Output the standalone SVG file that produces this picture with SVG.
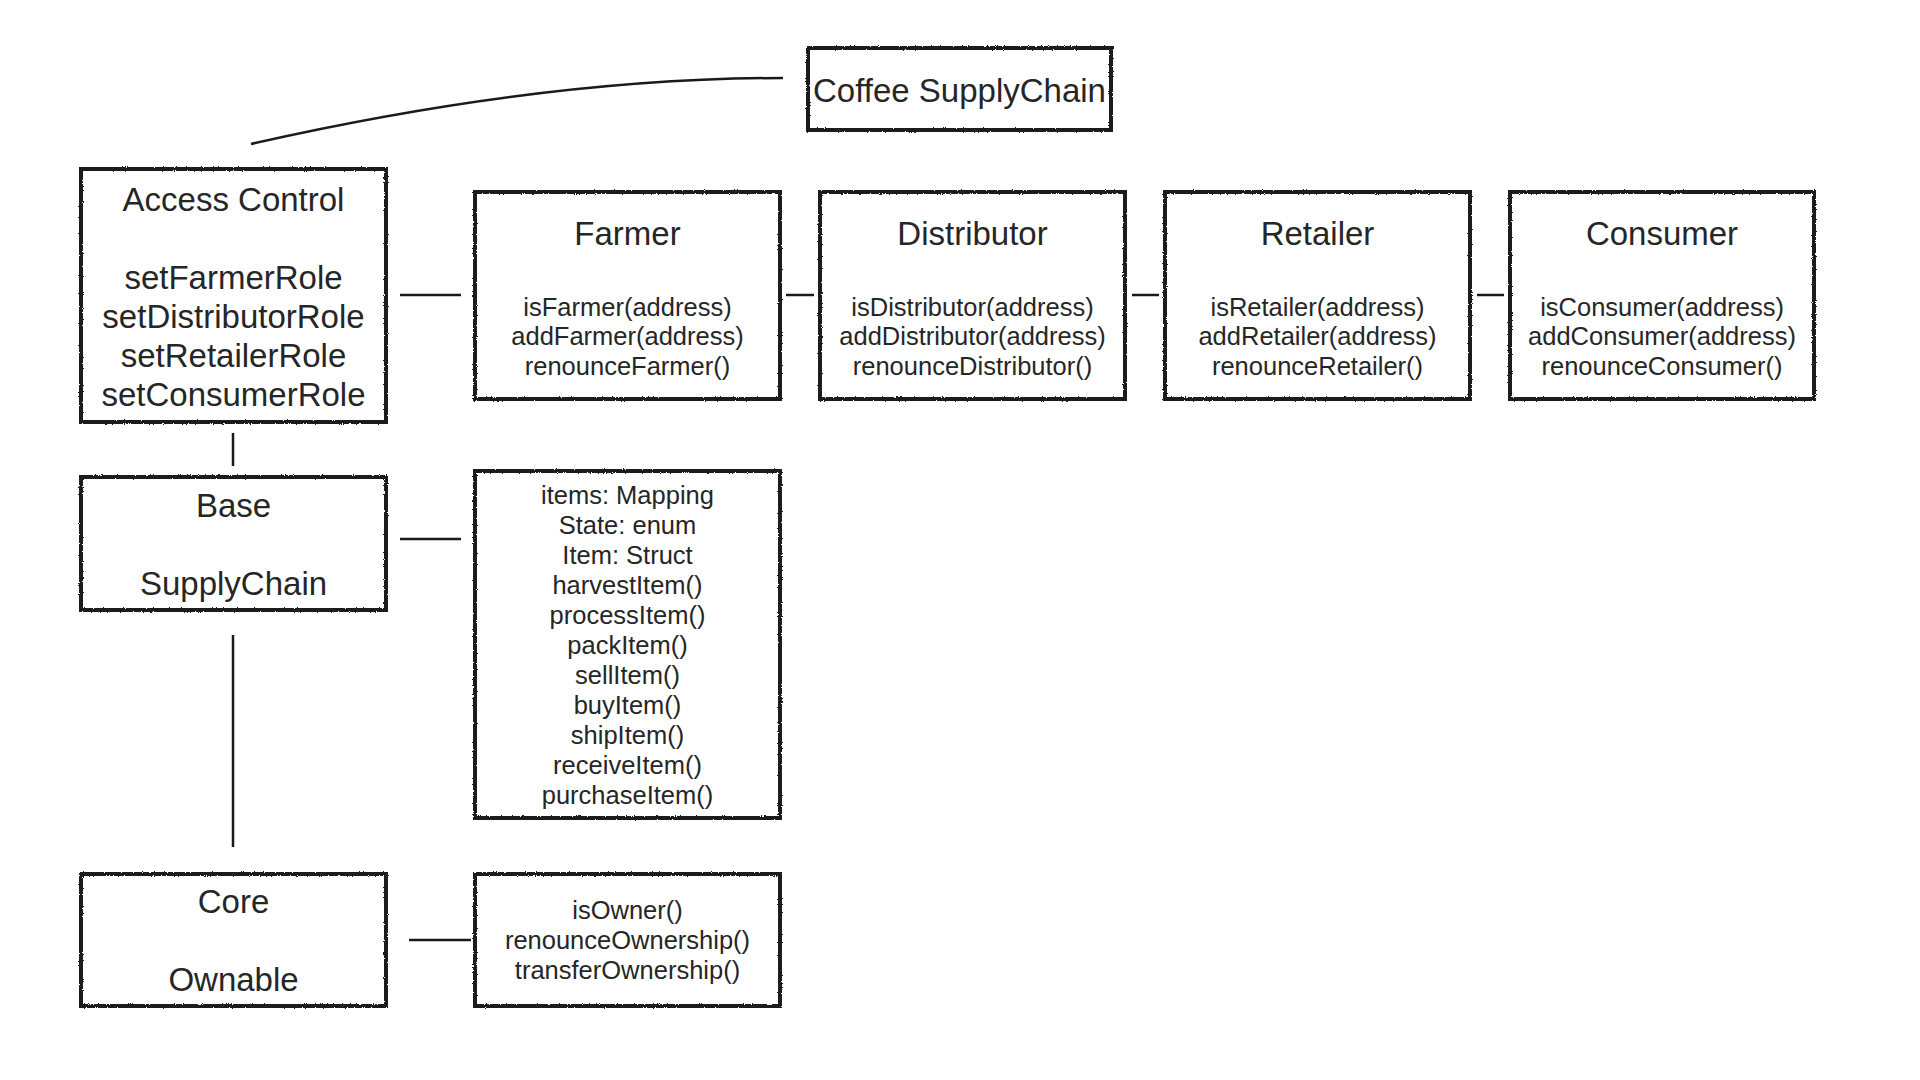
<svg xmlns="http://www.w3.org/2000/svg" width="1920" height="1080" viewBox="0 0 1920 1080">
<style>
.box{fill:#fff;stroke:#1a1a1a;stroke-width:4;filter:url(#rough)}
.big{font-family:"Liberation Sans",Arial,sans-serif;font-size:33px;fill:#262626;text-anchor:middle}
.sm{font-family:"Liberation Sans",Arial,sans-serif;font-size:25.5px;fill:#262626;text-anchor:middle}
.conn{stroke:#1a1a1a;stroke-width:2.5;fill:none}
</style>
<defs>
<filter id="rough" x="-5%" y="-5%" width="110%" height="110%">
<feTurbulence type="fractalNoise" baseFrequency="0.9" numOctaves="2" seed="3" result="n"/>
<feDisplacementMap in="SourceGraphic" in2="n" scale="2.5" xChannelSelector="R" yChannelSelector="G"/>
</filter>
</defs>
<rect width="1920" height="1080" fill="#fff"/>
<g id="connectors">
<path class="conn" d="M251,144 Q543,78 783,78"/>
<line class="conn" x1="400" y1="295" x2="461" y2="295"/>
<line class="conn" x1="786" y1="295" x2="814" y2="295"/>
<line class="conn" x1="1132" y1="295" x2="1159" y2="295"/>
<line class="conn" x1="1477" y1="295" x2="1504" y2="295"/>
<line class="conn" x1="233" y1="433" x2="233" y2="466"/>
<line class="conn" x1="400" y1="539" x2="461" y2="539"/>
<line class="conn" x1="233" y1="635" x2="233" y2="847"/>
<line class="conn" x1="409" y1="940" x2="471" y2="940"/>
</g>
<g id="coffee-supplychain">
<rect class="box" x="808" y="48" width="303" height="82"/>
<text class="big" x="959.5" y="102">Coffee SupplyChain</text>
</g>
<g id="access-control">
<rect class="box" x="81" y="169" width="305" height="253"/>
<text class="big" x="233.5" y="211">Access Control</text>
<text class="big" x="233.5" y="289">setFarmerRole</text>
<text class="big" x="233.5" y="328">setDistributorRole</text>
<text class="big" x="233.5" y="367">setRetailerRole</text>
<text class="big" x="233.5" y="406">setConsumerRole</text>
</g>
<g id="farmer">
<rect class="box" x="475" y="192" width="305" height="207"/>
<text class="big" x="627.5" y="245">Farmer</text>
<text class="sm" x="627.5" y="316">isFarmer(address)</text>
<text class="sm" x="627.5" y="345">addFarmer(address)</text>
<text class="sm" x="627.5" y="375">renounceFarmer()</text>
</g>
<g id="distributor">
<rect class="box" x="820" y="192" width="305" height="207"/>
<text class="big" x="972.5" y="245">Distributor</text>
<text class="sm" x="972.5" y="316">isDistributor(address)</text>
<text class="sm" x="972.5" y="345">addDistributor(address)</text>
<text class="sm" x="972.5" y="375">renounceDistributor()</text>
</g>
<g id="retailer">
<rect class="box" x="1165" y="192" width="305" height="207"/>
<text class="big" x="1317.5" y="245">Retailer</text>
<text class="sm" x="1317.5" y="316">isRetailer(address)</text>
<text class="sm" x="1317.5" y="345">addRetailer(address)</text>
<text class="sm" x="1317.5" y="375">renounceRetailer()</text>
</g>
<g id="consumer">
<rect class="box" x="1510" y="192" width="304" height="207"/>
<text class="big" x="1662" y="245">Consumer</text>
<text class="sm" x="1662" y="316">isConsumer(address)</text>
<text class="sm" x="1662" y="345">addConsumer(address)</text>
<text class="sm" x="1662" y="375">renounceConsumer()</text>
</g>
<g id="base-supplychain">
<rect class="box" x="81" y="477" width="305" height="133"/>
<text class="big" x="233.5" y="517">Base</text>
<text class="big" x="233.5" y="595">SupplyChain</text>
</g>
<g id="supplychain-members">
<rect class="box" x="475" y="471" width="305" height="347"/>
<text class="sm" x="627.5" y="504">items: Mapping</text>
<text class="sm" x="627.5" y="534">State: enum</text>
<text class="sm" x="627.5" y="564">Item: Struct</text>
<text class="sm" x="627.5" y="594">harvestItem()</text>
<text class="sm" x="627.5" y="624">processItem()</text>
<text class="sm" x="627.5" y="654">packItem()</text>
<text class="sm" x="627.5" y="684">sellItem()</text>
<text class="sm" x="627.5" y="714">buyItem()</text>
<text class="sm" x="627.5" y="744">shipItem()</text>
<text class="sm" x="627.5" y="774">receiveItem()</text>
<text class="sm" x="627.5" y="804">purchaseItem()</text>
</g>
<g id="core-ownable">
<rect class="box" x="81" y="874" width="305" height="132"/>
<text class="big" x="233.5" y="913">Core</text>
<text class="big" x="233.5" y="991">Ownable</text>
</g>
<g id="ownable-members">
<rect class="box" x="475" y="874" width="305" height="132"/>
<text class="sm" x="627.5" y="919">isOwner()</text>
<text class="sm" x="627.5" y="949">renounceOwnership()</text>
<text class="sm" x="627.5" y="979">transferOwnership()</text>
</g>
</svg>
